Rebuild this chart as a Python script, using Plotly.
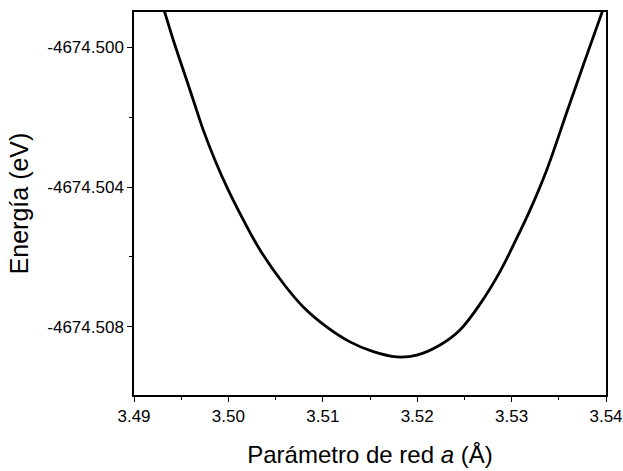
import plotly.graph_objects as go

# Lattice parameter a (Å) and energy (eV)
a_vals = [3.49318, 3.49416, 3.49522, 3.49628, 3.49734, 3.49858, 3.49999, 3.50158,
          3.50335, 3.50582, 3.50793, 3.51041, 3.51288, 3.51535, 3.51783, 3.51995,
          3.52242, 3.52453, 3.52665, 3.52877, 3.53071, 3.53195, 3.53372, 3.53592,
          3.53779, 3.53954, 3.54000]
energy = [-4674.49893, -4674.49979, -4674.50065, -4674.50151, -4674.50237, -4674.50323,
          -4674.50409, -4674.50494, -4674.50580, -4674.50676, -4674.50743, -4674.50800,
          -4674.50843, -4674.50871, -4674.50886, -4674.50881, -4674.50852, -4674.50809,
          -4674.50735, -4674.50642, -4674.50537, -4674.50466, -4674.50351, -4674.50180,
          -4674.50036, -4674.49903, -4674.49868]

x_ticks = [3.49, 3.50, 3.51, 3.52, 3.53, 3.54]
x_ticklabels = ["3.49", "3.50", "3.51", "3.52", "3.53", "3.54"]
x_minor = [3.495, 3.505, 3.515, 3.525, 3.535]
y_ticks = [-4674.500, -4674.504, -4674.508]
y_ticklabels = ["-4674.500", "-4674.504", "-4674.508"]
y_minor = [-4674.502, -4674.506]

FONT = "Liberation Sans, Arial, sans-serif"

fig = go.Figure()
fig.add_trace(go.Scatter(x=a_vals, y=energy, mode="lines",
                         line=dict(color="black", width=2.8, shape="spline", smoothing=1.0),
                         showlegend=False, hoverinfo="skip"))

fig.update_layout(
    width=623, height=471,
    margin=dict(l=134, r=17, t=12, b=76),
    paper_bgcolor="white", plot_bgcolor="white",
    font=dict(family=FONT, color="black"),
)

fig.update_xaxes(
    range=[3.49, 3.54], automargin=False,
    tickvals=x_ticks, ticktext=x_ticklabels,
    showgrid=False, zeroline=False,
    showline=True, linecolor="black", linewidth=1.5, mirror=True,
    ticks="outside", ticklen=5, tickwidth=1.3, tickcolor="black",
    tickfont=dict(size=17, family=FONT),
    minor=dict(tickvals=x_minor, ticks="outside",
               ticklen=3, tickwidth=1.3, tickcolor="black"),
    title=dict(text="Parámetro de red <i>a</i> (Å)", font=dict(size=24, family=FONT), standoff=21),
)

fig.update_yaxes(
    range=[-4674.50995, -4674.49899], automargin=False,
    tickvals=y_ticks, ticktext=y_ticklabels,
    showgrid=False, zeroline=False,
    showline=True, linecolor="black", linewidth=1.5, mirror=True,
    ticks="outside", ticklen=5, tickwidth=1.3, tickcolor="black",
    tickfont=dict(size=17, family=FONT),
    minor=dict(tickvals=y_minor, ticks="outside",
               ticklen=3, tickwidth=1.3, tickcolor="black"),
    title=dict(text="Energía (eV)", font=dict(size=25, family=FONT), standoff=12),
)

fig.write_html("out.html")
